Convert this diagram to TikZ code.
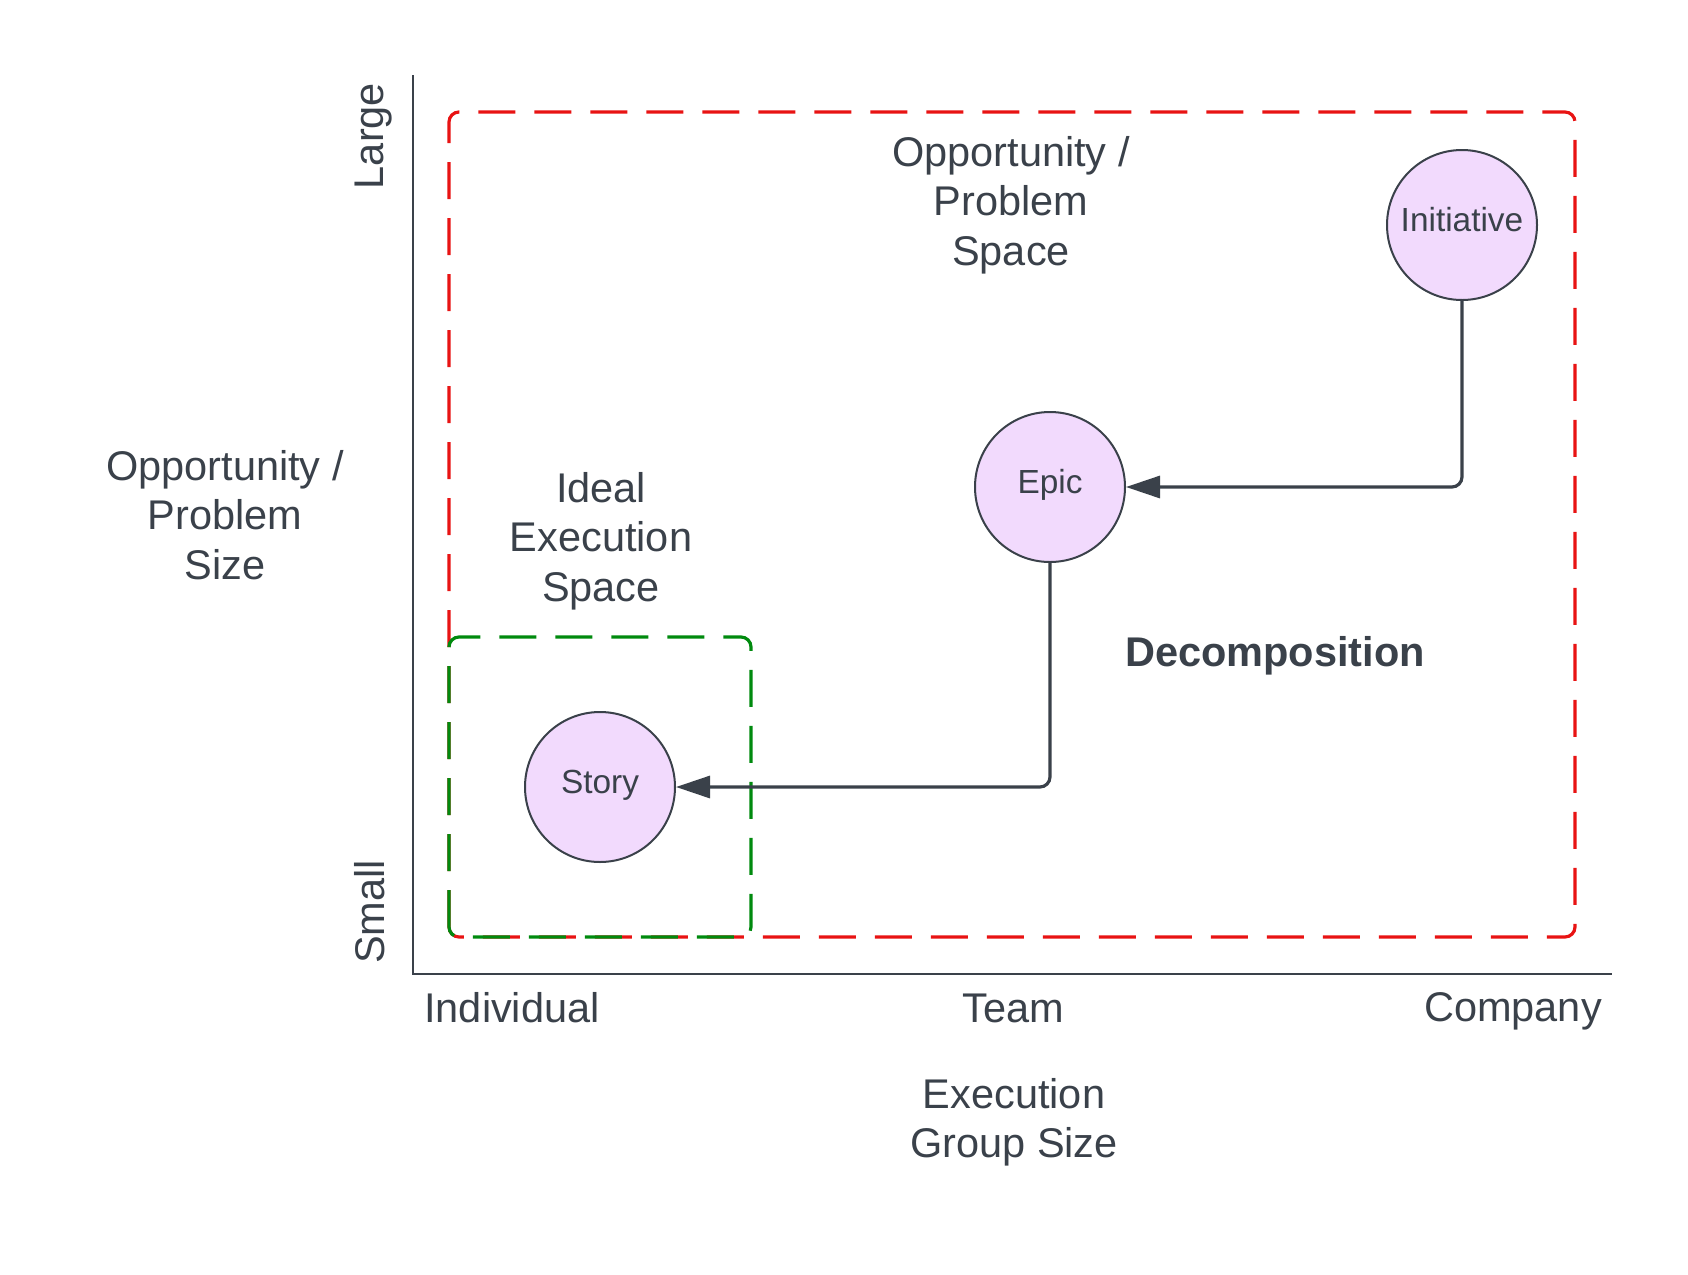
\documentclass[tikz,border=0pt]{standalone}
\usepackage{fontspec}
\setmainfont{Liberation Sans}
\usetikzlibrary{arrows.meta}
\definecolor{ink}{HTML}{3A414A}
\definecolor{circfill}{HTML}{F2DAFD}
\definecolor{boxred}{HTML}{E81313}
\definecolor{boxgreen}{HTML}{008A0E}
\tikzset{
  lbl/.style={font=\fontsize{20.75}{24.7}\selectfont, text=ink, align=center, inner sep=0pt},
  boldlbl/.style={font=\bfseries\fontsize{20.75}{24.7}\selectfont, text=ink, inner sep=0pt},
  item/.style={circle, draw=ink, fill=circfill, line width=1pt, minimum size=75pt, inner sep=0pt,
    font=\fontsize{16.7}{19}\selectfont, text=ink, text height=12pt, text depth=5.5pt},
  axisline/.style={draw=ink, line width=1pt},
  conn/.style={draw=ink, line width=1.6pt, rounded corners=5pt, -{Triangle[length=17pt,width=11pt]}},
  zone/.style={line width=1.6pt, rounded corners=5pt, dash pattern=on 18.5pt off 9.5pt}
}
\begin{document}
\begin{tikzpicture}[x=0.5pt,y=-0.5pt]
\useasboundingbox (0,0) rectangle (1688,1275);
% axes
\coordinate (ytop) at (413,75);
\coordinate (orig) at (413,974);
\coordinate (xend) at (1612,974);
\draw[axisline] (ytop) -- (orig) -- (xend);
% zones
\draw[zone, boxred] (449,937) -- (449,112) -- (1575,112) -- (1575,937) -- cycle;
\draw[zone, boxgreen] (449,937) -- (449,637) -- (751,637) -- (751,937) -- cycle;
% items
\node[item] (init) at (1462,225) {Initiative};
\node[item] (epic) at (1050,487) {Epic};
\node[item] (story) at (600,787) {Story};
% connectors
\draw[conn] (init.south) |- (epic.east);
\draw[conn] (epic.south) |- (story.east);
% labels
\node[lbl] (ops) at (1011,205) {Opportunity /\\Problem\\Space};
\node[lbl] (opsize) at (225,515) {Opportunity /\\Problem\\Size};
\node[lbl] (ideal) at (601,541) {Ideal\\Execution\\Space};
\node[boldlbl, anchor=base] (decomp) at (1275,666) {Decomposition};
\node[lbl, anchor=base, rotate=90] (large) at (383,136) {Large};
\node[lbl, anchor=base, rotate=90] (small) at (384,912) {Small};
\node[lbl, anchor=base] (indiv) at (512,1022) {Individual};
\node[lbl, anchor=base] (team) at (1013,1022) {Team};
\node[lbl, anchor=base] (comp) at (1513,1021) {Company};
\node[lbl] (egs) at (1014,1122) {Execution\\Group Size};
\end{tikzpicture}
\end{document}
